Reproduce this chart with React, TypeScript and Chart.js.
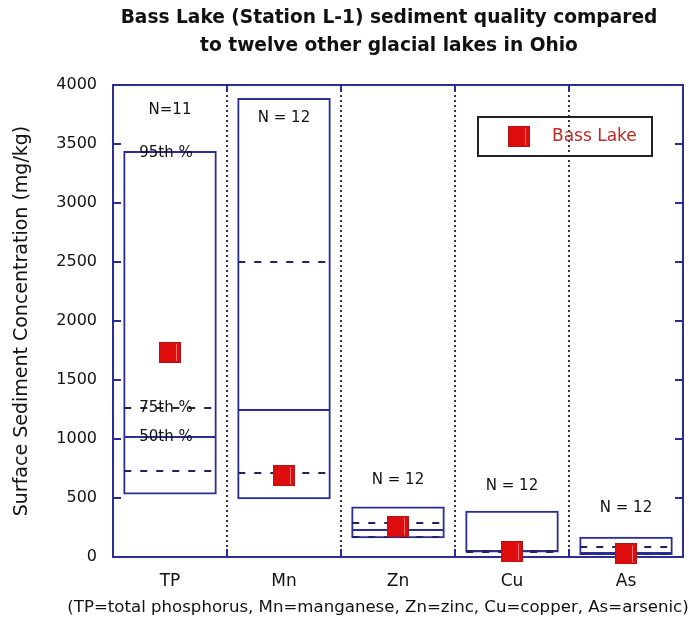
import React, { useEffect, useRef } from 'react';
import { Chart, registerables } from 'chart.js';

Chart.register(...registerables);

const FONT = "'DejaVu Sans', 'Liberation Sans', Arial, sans-serif";
const NAVY = '#2c2c96';
const DASH = '#22225e';
const TEXT = '#111111';

const titleLines = [
  'Bass Lake (Station L-1) sediment quality compared',
  'to twelve other glacial lakes in Ohio',
];
const yAxisTitle = 'Surface Sediment Concentration (mg/kg)';
const footnote = '(TP=total phosphorus, Mn=manganese, Zn=zinc, Cu=copper, As=arsenic)';
const legendLabel = 'Bass Lake';

const categories = ['TP', 'Mn', 'Zn', 'Cu', 'As'];
const boxLow = [530, 490, 158, 38, 17];
const boxHigh = [3440, 3890, 427, 392, 172];
const pct25 = [730, 710, 169, 44, 22];
const pct50 = [1020, 1250, 226, 47, 31];
const pct75 = [1265, 2500, 288, 52, 82];
const bassLake = [1735, 690, 257, 45, 28];
const sampleSize = ['N=11', 'N = 12', 'N = 12', 'N = 12', 'N = 12'];
const sampleSizeAt = [3790, 3720, 650, 600, 415];
const tpLabels = ['95th %', '75th %', '50th %'];
const tpLabelAt = [3420, 1265, 1020];
const yMin = 0;
const yMax = 4000;
const yStep = 500;

function makeMarker(): HTMLCanvasElement {
  const c = document.createElement('canvas');
  c.width = 22;
  c.height = 21;
  const g = c.getContext('2d')!;
  g.fillStyle = '#b41414';
  g.fillRect(0, 0, 22, 21);
  g.fillStyle = '#de0c0c';
  g.fillRect(1, 1, 20, 19);
  g.fillStyle = '#ee7070';
  g.fillRect(17, 2, 1, 17);
  return c;
}

function makeDecor(marker: HTMLCanvasElement) {
  return {
    id: 'decor',
    beforeDatasetsDraw(chart: any) {
      const { ctx, chartArea: a, scales } = chart;
      const x = scales.x;
      const y = scales.y;
      ctx.save();
      ctx.lineWidth = 2;
      ctx.strokeStyle = '#33335a';
      ctx.setLineDash([2, 3]);
      const seps: number[] = [];
      for (let i = 1; i < categories.length; i++) {
        const px = Math.round((x.getPixelForValue(i - 1) + x.getPixelForValue(i)) / 2);
        seps.push(px);
        ctx.beginPath();
        ctx.moveTo(px, a.top);
        ctx.lineTo(px, a.bottom);
        ctx.stroke();
      }
      ctx.setLineDash([]);
      ctx.strokeStyle = NAVY;
      ctx.beginPath();
      seps.forEach((px) => {
        ctx.moveTo(px, a.top);
        ctx.lineTo(px, a.top + 6);
        ctx.moveTo(px, a.bottom);
        ctx.lineTo(px, a.bottom - 8);
      });
      y.ticks.forEach((t: any) => {
        const py = Math.round(y.getPixelForValue(t.value));
        ctx.moveTo(a.left, py);
        ctx.lineTo(a.left + 8, py);
        ctx.moveTo(a.right, py);
        ctx.lineTo(a.right - 8, py);
      });
      ctx.stroke();
      ctx.strokeRect(a.left, a.top, a.right - a.left, a.bottom - a.top);
      ctx.restore();
    },
    beforeDatasetDraw(chart: any, args: any) {
      if (args.index !== 0) return;
      const { ctx, scales } = chart;
      const y = scales.y;
      const meta = chart.getDatasetMeta(1);
      ctx.save();
      ctx.lineWidth = 2;
      meta.data.forEach((bar: any, i: number) => {
        const p = bar.getProps(['x', 'width'], true);
        const l = p.x - p.width / 2 + 1;
        const r = p.x + p.width / 2 - 1;
        const h = (v: number, dash: number[], color: string) => {
          const py = Math.round(y.getPixelForValue(v));
          ctx.strokeStyle = color;
          ctx.setLineDash(dash);
          ctx.beginPath();
          ctx.moveTo(l, py);
          ctx.lineTo(r, py);
          ctx.stroke();
        };
        h(pct25[i], [7, 9], DASH);
        h(pct50[i], [], NAVY);
        h(pct75[i], [7, 9], DASH);
      });
      ctx.restore();
    },
    afterDatasetsDraw(chart: any) {
      const { ctx, chartArea: a, scales } = chart;
      const x = scales.x;
      const y = scales.y;
      ctx.save();
      ctx.fillStyle = TEXT;
      ctx.textAlign = 'center';
      ctx.textBaseline = 'middle';
      ctx.font = `bold 18.6px ${FONT}`;
      const tx = (a.left + a.right) / 2 - 9;
      titleLines.forEach((line, i) => {
        ctx.fillText(line, tx, a.top - 67 + i * 28);
      });
      ctx.font = `16.6px ${FONT}`;
      ctx.fillText(footnote, (a.left + a.right) / 2 - 20, a.bottom + 51);
      ctx.font = `15px ${FONT}`;
      categories.forEach((_, i) => {
        ctx.fillText(sampleSize[i], x.getPixelForValue(i), y.getPixelForValue(sampleSizeAt[i]));
      });
      tpLabels.forEach((t, i) => {
        ctx.fillText(t, x.getPixelForValue(0) - 4, y.getPixelForValue(tpLabelAt[i]));
      });
      const lx = a.right - 205;
      const ly = a.top + 32;
      ctx.strokeStyle = '#222222';
      ctx.lineWidth = 2;
      ctx.strokeRect(lx, ly, 174, 39);
      ctx.drawImage(marker, lx + 30, ly + 9);
      ctx.fillStyle = '#c02828';
      ctx.textAlign = 'left';
      ctx.font = `17px ${FONT}`;
      ctx.fillText(legendLabel, lx + 74, ly + 20);
      ctx.restore();
    },
  };
}

export default function App() {
  const ref = useRef<HTMLCanvasElement>(null);
  useEffect(() => {
    document.body.style.margin = '0';
    const marker = makeMarker();
    const chart = new Chart(ref.current!, {
      type: 'bar',
      data: {
        labels: categories,
        datasets: [
          {
            type: 'line',
            label: legendLabel,
            data: bassLake,
            showLine: false,
            pointStyle: marker as any,
            clip: false as any,
            order: 0,
          } as any,
          {
            type: 'bar',
            label: 'Range',
            data: boxLow.map((lo, i) => [lo, boxHigh[i]]) as any,
            backgroundColor: 'rgba(0,0,0,0)',
            borderColor: NAVY,
            borderWidth: 2,
            borderSkipped: false,
            barPercentage: 0.82,
            categoryPercentage: 1,
            order: 1,
          } as any,
        ],
      },
      options: {
        responsive: false,
        animation: false,
        devicePixelRatio: 1,
        layout: { padding: { top: 85, right: 6, left: 0, bottom: 0 } },
        plugins: {
          legend: { display: false },
          title: { display: false },
          tooltip: { enabled: false },
        },
        scales: {
          x: {
            grid: { display: false, drawTicks: false },
            border: { display: false },
            ticks: { font: { family: FONT, size: 17 }, color: TEXT, padding: 14 },
            afterFit: (s: any) => {
              s.height = 70;
            },
          },
          y: {
            min: yMin,
            max: yMax,
            grid: { display: false, drawTicks: false },
            border: { display: false },
            ticks: {
              stepSize: yStep,
              font: { family: FONT, size: 16 },
              color: TEXT,
              padding: 16,
              callback: (v: any) => String(v),
            },
            title: {
              display: true,
              text: yAxisTitle,
              font: { family: FONT, size: 19 },
              color: TEXT,
              padding: { top: 11, bottom: 0 },
            },
            afterFit: (s: any) => {
              s.width = 113;
            },
          },
        },
      } as any,
      plugins: [makeDecor(marker)],
    });
    return () => chart.destroy();
  }, []);
  return <canvas ref={ref} width={689} height={627} style={{ display: 'block' }} />;
}
